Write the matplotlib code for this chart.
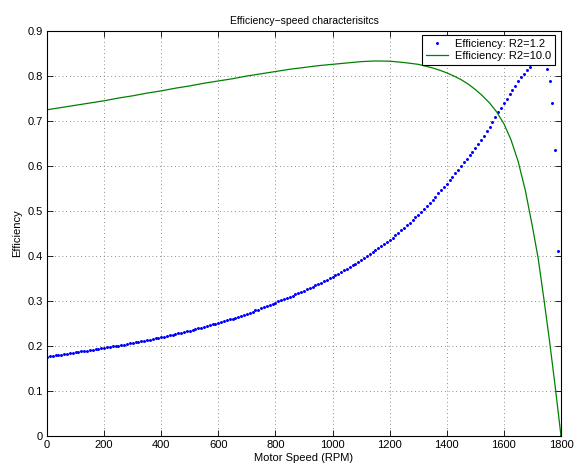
import matplotlib
matplotlib.use('Agg')
import matplotlib.pyplot as plt

# efficiency for R2=1.2, read every 10 RPM from 0 to 1800
speed_r12 = list(range(0, 1801, 10))
eff_r12 = [
    0.176, 0.177, 0.178, 0.179, 0.180, 0.181, 0.182, 0.183, 0.184, 0.185,
    0.186, 0.187, 0.188, 0.189, 0.190, 0.191, 0.192, 0.193, 0.194, 0.195,
    0.196, 0.197, 0.198, 0.199, 0.200, 0.201, 0.202, 0.203, 0.204, 0.206,
    0.207, 0.208, 0.209, 0.211, 0.212, 0.213, 0.214, 0.216, 0.217, 0.218,
    0.220, 0.221, 0.223, 0.224, 0.225, 0.227, 0.228, 0.230, 0.231, 0.233,
    0.234, 0.236, 0.237, 0.239, 0.241, 0.242, 0.244, 0.246, 0.248, 0.249,
    0.251, 0.253, 0.255, 0.257, 0.259, 0.261, 0.263, 0.265, 0.267, 0.270,
    0.272, 0.274, 0.276, 0.279, 0.281, 0.284, 0.286, 0.289, 0.291, 0.294,
    0.296, 0.299, 0.302, 0.304, 0.307, 0.310, 0.312, 0.315, 0.318, 0.321,
    0.323, 0.326, 0.329, 0.332, 0.335, 0.338, 0.341, 0.344, 0.347, 0.351,
    0.354, 0.357, 0.361, 0.364, 0.368, 0.372, 0.375, 0.379, 0.383, 0.387,
    0.391, 0.395, 0.399, 0.404, 0.408, 0.413, 0.417, 0.422, 0.426, 0.431,
    0.436, 0.441, 0.446, 0.452, 0.457, 0.462, 0.468, 0.474, 0.480, 0.486,
    0.492, 0.498, 0.505, 0.511, 0.518, 0.525, 0.532, 0.539, 0.546, 0.554,
    0.561, 0.569, 0.576, 0.584, 0.592, 0.600, 0.608, 0.616, 0.624, 0.632,
    0.640, 0.649, 0.658, 0.667, 0.677, 0.687, 0.697, 0.708, 0.719, 0.729,
    0.740, 0.749, 0.759, 0.769, 0.778, 0.788, 0.797, 0.805, 0.813, 0.820,
    0.829, 0.836, 0.840, 0.839, 0.832, 0.815, 0.790, 0.739, 0.635, 0.411,
    0.0,
]

# efficiency for R2=10.0
speed_r10 = [0, 50, 100, 150, 200, 250, 300, 350, 400, 450, 500, 550, 600,
             650, 700, 750, 800, 850, 900, 950, 1000, 1050, 1100, 1150, 1200,
             1250, 1300, 1325, 1350, 1375, 1400, 1425, 1450, 1475, 1500, 1525,
             1550, 1575, 1600, 1625, 1650, 1675, 1700, 1720, 1740, 1760, 1780,
             1800]
eff_r10 = [0.725, 0.730, 0.735, 0.740, 0.745, 0.751, 0.756, 0.762, 0.767,
           0.773, 0.778, 0.784, 0.789, 0.794, 0.800, 0.805, 0.810, 0.815,
           0.819, 0.823, 0.826, 0.829, 0.832, 0.8335, 0.833, 0.830, 0.826,
           0.822, 0.818, 0.813, 0.807, 0.800, 0.792, 0.782, 0.770, 0.756,
           0.740, 0.720, 0.694, 0.658, 0.610, 0.546, 0.465, 0.395, 0.305,
           0.210, 0.108, 0.0]

xticks = [0, 200, 400, 600, 800, 1000, 1200, 1400, 1600, 1800]
yticks = [0, 0.1, 0.2, 0.3, 0.4, 0.5, 0.6, 0.7, 0.8, 0.9]
ytick_labels = ['0', '0.1', '0.2', '0.3', '0.4', '0.5', '0.6', '0.7', '0.8', '0.9']

plt.rcParams['font.family'] = ['Liberation Sans', 'DejaVu Sans']
plt.rcParams['font.size'] = 8

fig = plt.figure(figsize=(5.78, 4.70), dpi=100)
ax = fig.add_axes([0.0813, 0.0723, 0.8893, 0.8617])

ax.plot(speed_r12, eff_r12, linestyle='none', marker='.', markersize=2.3,
        color='#0000ff', label='Efficiency: R2=1.2')
ax.plot(speed_r10, eff_r10, color='#008000', linewidth=0.9,
        label='Efficiency: R2=10.0')

ax.set_xlim(0, 1800)
ax.set_ylim(0, 0.9)
ax.set_xticks(xticks)
ax.set_yticks(yticks)
ax.set_yticklabels(ytick_labels)
ax.tick_params(direction='in', length=4, width=0.6, top=True, right=True,
               labelsize=8, pad=3)
for s in ax.spines.values():
    s.set_linewidth(0.8)
ax.grid(True, linestyle=(0, (1, 3.5)), color='#666666', linewidth=0.6)

ax.set_title('Efficiency\u2212speed characterisitcs', fontsize=7.5, pad=5)
ax.set_xlabel('Motor Speed (RPM)', labelpad=2)
ax.set_ylabel('Efficiency', labelpad=4)

leg = ax.legend(loc='upper right', bbox_to_anchor=(0.988, 0.990),
                borderaxespad=0, numpoints=1, fancybox=False, framealpha=1,
                edgecolor='black', fontsize=8, handlelength=2.0,
                borderpad=0.35, labelspacing=0.15, handletextpad=0.6)
leg.get_frame().set_linewidth(0.8)

fig.savefig('out.png', dpi=100)
